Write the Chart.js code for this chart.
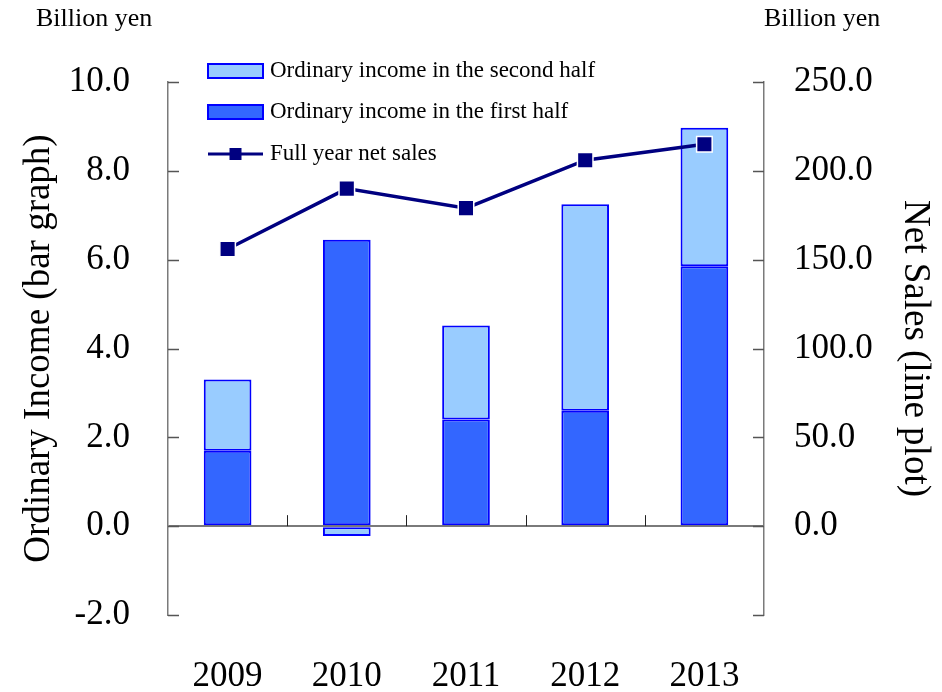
<!DOCTYPE html>
<html>
<head>
<meta charset="utf-8">
<script src="https://cdn.jsdelivr.net/npm/chart.js@4.4.0/dist/chart.umd.min.js"></script>
<style>
  html, body { margin: 0; padding: 0; background: #fff; }
  #wrap { width: 942px; height: 692px; position: relative; }
</style>
</head>
<body>
<div id="wrap"><canvas id="income"></canvas></div>
<script>
const years = ["2009", "2010", "2011", "2012", "2013"];
const firstHalf = [1.7, 6.45, 2.4, 2.6, 5.85];
const secondHalf = [1.6, -0.22, 2.12, 4.65, 3.12];
const netSales = [156, 190, 179, 206, 215];

const leftTicks = { min: -2, max: 10, step: 2 };
const rightTicks = { min: -50, max: 250, step: 50 };

const serif = "'Liberation Serif', 'Times New Roman', serif";
const navy = "#000080";
const lightBlue = "#99ccff";
const darkBlue = "#3366ff";
const barEdge = "#0000ff";
const axisGray = "#7a7a7a";

// inward ticks on both value axes + little marks between the years on the zero line
const axisMarks = {
  id: "axisMarks",
  afterDatasetsDraw(chart) {
    const { ctx, chartArea, scales } = chart;
    const y = scales.y, y1 = scales.y1, x = scales.x;
    ctx.save();
    ctx.strokeStyle = "#555";
    ctx.lineWidth = 1.5;
    ctx.beginPath();
    y.ticks.forEach((t) => {
      const py = Math.round(y.getPixelForValue(t.value)) + 0.5;
      ctx.moveTo(chartArea.left, py);
      ctx.lineTo(chartArea.left + 11, py);
    });
    y1.ticks.forEach((t) => {
      const py = Math.round(y1.getPixelForValue(t.value)) + 0.5;
      ctx.moveTo(chartArea.right - 11, py);
      ctx.lineTo(chartArea.right, py);
    });
    ctx.stroke();

    ctx.strokeStyle = "#222";
    ctx.lineWidth = 1;
    const zero = y.getPixelForValue(0);
    ctx.beginPath();
    for (let i = 1; i < years.length; i++) {
      const px = Math.round((x.getPixelForTick(i - 1) + x.getPixelForTick(i)) / 2) + 0.5;
      ctx.moveTo(px, zero);
      ctx.lineTo(px, zero - 11);
    }
    ctx.stroke();
    ctx.restore();
  },
};

// unit captions and the legend box in the top-left of the plot
const captions = {
  id: "captions",
  afterDraw(chart) {
    const { ctx } = chart;
    const ds = chart.data.datasets;
    ctx.save();
    ctx.fillStyle = "#000";
    ctx.textBaseline = "middle";
    ctx.font = "26px " + serif;
    ctx.textAlign = "left";
    ctx.fillText("Billion yen", 36, 19);
    ctx.fillText("Billion yen", 764, 19);

    const items = [ds[2], ds[1], ds[0]];
    const x0 = 208, boxW = 55, rows = [71, 112, 154];
    ctx.font = "23px " + serif;
    items.forEach((d, i) => {
      const cy = rows[i];
      if (d.type === "line") {
        ctx.strokeStyle = d.borderColor;
        ctx.lineWidth = 3;
        ctx.beginPath();
        ctx.moveTo(x0, cy);
        ctx.lineTo(x0 + boxW, cy);
        ctx.stroke();
        ctx.fillStyle = d.pointBackgroundColor;
        ctx.fillRect(x0 + boxW / 2 - 6, cy - 6, 12, 12);
      } else {
        ctx.fillStyle = d.backgroundColor;
        ctx.fillRect(x0, cy - 7, boxW, 14);
        ctx.strokeStyle = d.borderColor;
        ctx.lineWidth = 2;
        ctx.strokeRect(x0, cy - 7, boxW, 14);
      }
      ctx.fillStyle = "#000";
      ctx.fillText(d.label, x0 + boxW + 7, cy);
    });
    ctx.restore();
  },
};

new Chart(document.getElementById("income"), {
  data: {
    labels: years,
    datasets: [
      {
        type: "line",
        label: "Full year net sales",
        data: netSales,
        yAxisID: "y1",
        order: 0,
        borderColor: navy,
        borderWidth: 3.5,
        tension: 0,
        pointStyle: "rect",
        pointRadius: 11,
        pointHoverRadius: 11,
        pointBackgroundColor: navy,
        pointBorderColor: "#fff",
        pointBorderWidth: 1.5,
      },
      {
        type: "bar",
        label: "Ordinary income in the first half",
        data: firstHalf,
        yAxisID: "y",
        stack: "income",
        order: 1,
        backgroundColor: darkBlue,
        borderColor: barEdge,
        borderWidth: 2,
        borderSkipped: false,
      },
      {
        type: "bar",
        label: "Ordinary income in the second half",
        data: secondHalf,
        yAxisID: "y",
        stack: "income",
        order: 2,
        backgroundColor: lightBlue,
        borderColor: barEdge,
        borderWidth: 2,
        borderSkipped: false,
      },
    ],
  },
  options: {
    responsive: true,
    maintainAspectRatio: false,
    animation: false,
    layout: { padding: { top: 82, left: 0, right: 0, bottom: 0 } },
    datasets: { bar: { categoryPercentage: 1, barPercentage: 0.4 } },
    plugins: { legend: { display: false }, tooltip: { enabled: false } },
    scales: {
      x: {
        stacked: true,
        border: { display: false },
        grid: { display: false, drawTicks: false },
        ticks: { color: "#000", font: { family: serif, size: 35 }, padding: 41 },
        afterFit(scale) { scale.height = 77; },
      },
      y: {
        position: "left",
        stacked: true,
        min: leftTicks.min,
        max: leftTicks.max,
        border: { display: true, color: axisGray, width: 1.5 },
        grid: {
          drawTicks: false,
          color: (c) => (c.tick && c.tick.value === 0 ? axisGray : "transparent"),
          lineWidth: 2,
        },
        ticks: {
          stepSize: leftTicks.step,
          color: "#000",
          padding: 38,
          font: { family: serif, size: 35 },
          callback: (v) => Number(v).toFixed(1),
        },
        title: {
          display: true,
          text: "Ordinary Income (bar graph)",
          color: "#000",
          font: { family: serif, size: 37 },
          padding: { top: 17, bottom: 0 },
        },
        afterFit(scale) { scale.width = 168; },
      },
      y1: {
        position: "right",
        min: rightTicks.min,
        max: rightTicks.max,
        border: { display: true, color: axisGray, width: 1.5 },
        grid: { drawOnChartArea: false, drawTicks: false },
        ticks: {
          stepSize: rightTicks.step,
          color: "#000",
          padding: 30,
          font: { family: serif, size: 35 },
          callback: (v) => (v < 0 ? "" : Number(v).toFixed(1)),
        },
        title: {
          display: true,
          text: "Net Sales (line plot)",
          color: "#000",
          font: { family: serif, size: 37 },
          padding: { top: 5, bottom: 0 },
        },
        afterFit(scale) { scale.width = 178; },
      },
    },
  },
  plugins: [axisMarks, captions],
});
</script>
</body>
</html>
